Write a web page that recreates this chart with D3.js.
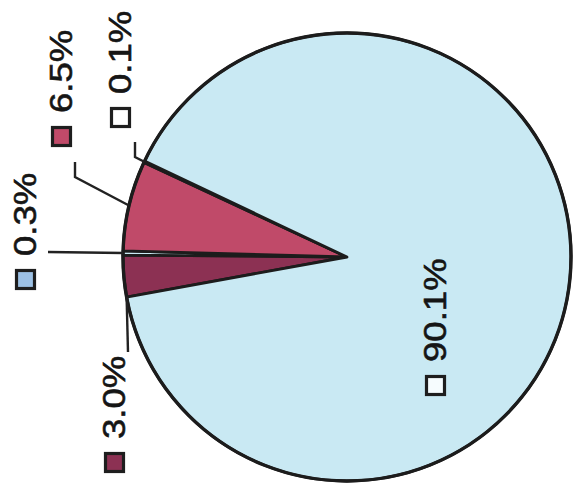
<!DOCTYPE html>
<html>
<head>
<meta charset="utf-8">
<script src="https://cdn.jsdelivr.net/npm/d3@7"></script>
<style>
  html, body { margin: 0; padding: 0; background: #ffffff; }
  svg { display: block; }
</style>
</head>
<body>
<svg id="chart" width="573" height="487"></svg>
<script>
// Slice data, in drawing order (clockwise from the start angle)
const labels = ["3.0%", "0.3%", "6.5%", "0.1%", "90.1%"];
const values = [3.0, 0.3, 6.5, 0.1, 90.1];
const sliceColors = ["#8c3153", "#c9e9f3", "#c04a69", "#ffffff", "#c9e9f3"];
const keyColors = ["#8c3153", "#9dc1e5", "#c04a69", "#ffffff", "#f6fcfe"];

// Label layout: key-box anchor (baseline side, bottom end), where on the slice
// the leader attaches (0 = slice start, 0.5 = middle) and the leader's bends.
const labelLayout = [
  { ax: 125, ay: 473, attach: 0.0, bends: [[128, 352]] },
  { ax: 36,  ay: 290, attach: 0.5, bends: [[48, 252]] },
  { ax: 72,  ay: 147, attach: 0.5, bends: [[75, 177], [75, 162]] },
  { ax: 131, ay: 128, attach: 0.5, bends: [[135, 157], [135, 142]] },
  { ax: 446, ay: 396, attach: null, bends: [] }
];

const cx = 347, cy = 257, radius = 224;
const startDeg = 259.7;
const keySize = 21, textGap = 34, fontSize = 31, stretch = 1.18;

const svg = d3.select("#chart");
const g = svg.append("g").attr("transform", `translate(${cx},${cy})`);

const pie = d3.pie()
  .sort(null)
  .value(d => d)
  .startAngle(startDeg * Math.PI / 180)
  .endAngle(startDeg * Math.PI / 180 + 2 * Math.PI);

const arcs = pie(values);
const arc = d3.arc().innerRadius(0).outerRadius(radius);

// Slices
g.selectAll("path.slice")
  .data(arcs)
  .join("path")
  .attr("class", "slice")
  .attr("d", arc)
  .attr("fill", (d, i) => sliceColors[i])
  .attr("stroke", "#1c1c1c")
  .attr("stroke-width", 2.8)
  .attr("stroke-linejoin", "round");

// Outer rim
g.append("circle")
  .attr("r", radius)
  .attr("fill", "none")
  .attr("stroke", "#1c1c1c")
  .attr("stroke-width", 3.4);

// Leader lines
const line = d3.line();
arcs.forEach((a, i) => {
  const lay = labelLayout[i];
  if (lay.attach === null) return;
  const ang = a.startAngle + lay.attach * (a.endAngle - a.startAngle);
  const sx = cx + radius * Math.sin(ang);
  const sy = cy - radius * Math.cos(ang);
  svg.append("path")
    .attr("d", line([[sx, sy], ...lay.bends]))
    .attr("fill", "none")
    .attr("stroke", "#222222")
    .attr("stroke-width", 2.4);
});

// Labels: key box plus percentage, reading bottom to top
const lab = svg.selectAll("g.label")
  .data(arcs)
  .join("g")
  .attr("class", "label")
  .attr("transform", (d, i) => `translate(${labelLayout[i].ax},${labelLayout[i].ay}) rotate(-90)`);

lab.append("rect")
  .attr("x", 1.5)
  .attr("y", -keySize + 1.5)
  .attr("width", keySize - 3)
  .attr("height", keySize - 3)
  .attr("fill", (d, i) => keyColors[i])
  .attr("stroke", "#1e1e1e")
  .attr("stroke-width", 3.2);

lab.append("text")
  .attr("transform", `translate(${textGap},0) scale(${stretch},1)`)
  .attr("font-family", "'Liberation Sans', Arial, Helvetica, sans-serif")
  .attr("font-size", fontSize)
  .attr("fill", "#151515")
  .attr("stroke", "#151515")
  .attr("stroke-width", 0.6)
  .text((d, i) => labels[i]);
</script>
</body>
</html>
